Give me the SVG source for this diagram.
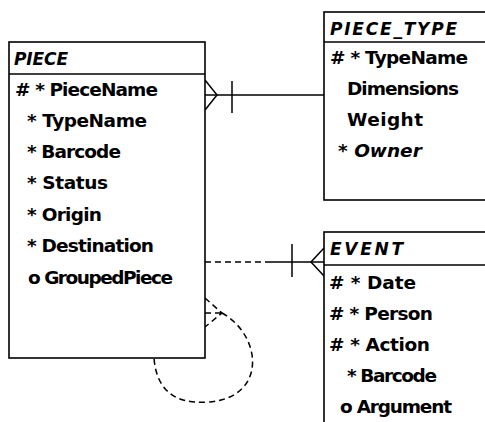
<svg xmlns="http://www.w3.org/2000/svg" width="485" height="422" viewBox="0 0 485 422">
<style>
.box{fill:#fff;stroke:#000;stroke-width:1.6}
.div{stroke:#000;stroke-width:1.6}
.t{font-family:"DejaVu Sans","Liberation Sans",sans-serif;font-size:18.5px;font-weight:bold;fill:#000}
.ti{font-family:"DejaVu Sans","Liberation Sans",sans-serif;font-size:17px;font-style:italic;font-weight:bold;fill:#000}
.it{font-style:italic}
.ln{fill:none;stroke:#000;stroke-width:1.5}
.dash{fill:none;stroke:#000;stroke-width:1.5;stroke-dasharray:6 4}
</style>
<rect width="485" height="422" fill="#fff"/>
<g id="connectors">
<path class="ln" d="M205 95 H324"/>
<path class="ln" d="M205 80 L217 95 L205 110"/>
<path class="ln" d="M232 81 V113"/>
<path class="dash" d="M205 262 H265"/>
<path class="ln" d="M265 262 H324"/>
<path class="ln" d="M292 244 V277"/>
<path class="ln" d="M324 248 L311 262 L324 276"/>
<path class="dash" d="M205 298 L222 313 L205 327 M205 313 H222"/>
<path class="dash" d="M222 313 C262 335 268 398 208 402 C170 405 156 385 154 358"/>
</g>
<g id="piece">
<rect class="box" x="9" y="42" width="196" height="316"/>
<line class="div" x1="9" y1="74" x2="205" y2="74"/>
<text class="ti" x="14" y="65" textLength="54">PIECE</text>
<text class="t" x="15" y="96" textLength="143"># * PieceName</text>
<text class="t" x="27" y="127" textLength="120">* TypeName</text>
<text class="t" x="27" y="158" textLength="94">* Barcode</text>
<text class="t" x="27" y="189" textLength="81">* Status</text>
<text class="t" x="27" y="221" textLength="75">* Origin</text>
<text class="t" x="27" y="252" textLength="127">* Destination</text>
<text class="t" x="28" y="284" textLength="145">o GroupedPiece</text>
</g>
<g id="piece_type">
<rect class="box" x="324" y="12" width="175" height="188"/>
<line class="div" x1="324" y1="42" x2="499" y2="42"/>
<text class="ti" x="330" y="35" textLength="127">PIECE_TYPE</text>
<text class="t" x="330" y="64" textLength="138"># * TypeName</text>
<text class="t" x="347" y="95" textLength="112">Dimensions</text>
<text class="t" x="347" y="126" textLength="76">Weight</text>
<text class="t" x="338" y="157">* <tspan class="it">Owner</tspan></text>
</g>
<g id="event">
<rect class="box" x="324" y="232" width="175" height="200"/>
<line class="div" x1="324" y1="265" x2="499" y2="265"/>
<text class="ti" x="330" y="255" textLength="73">EVENT</text>
<text class="t" x="329" y="289" textLength="87"># * Date</text>
<text class="t" x="329" y="320" textLength="104"># * Person</text>
<text class="t" x="329" y="351" textLength="101"># * Action</text>
<text class="t" x="347" y="382" textLength="90">* Barcode</text>
<text class="t" x="340" y="413" textLength="112">o Argument</text>
</g>
</svg>
